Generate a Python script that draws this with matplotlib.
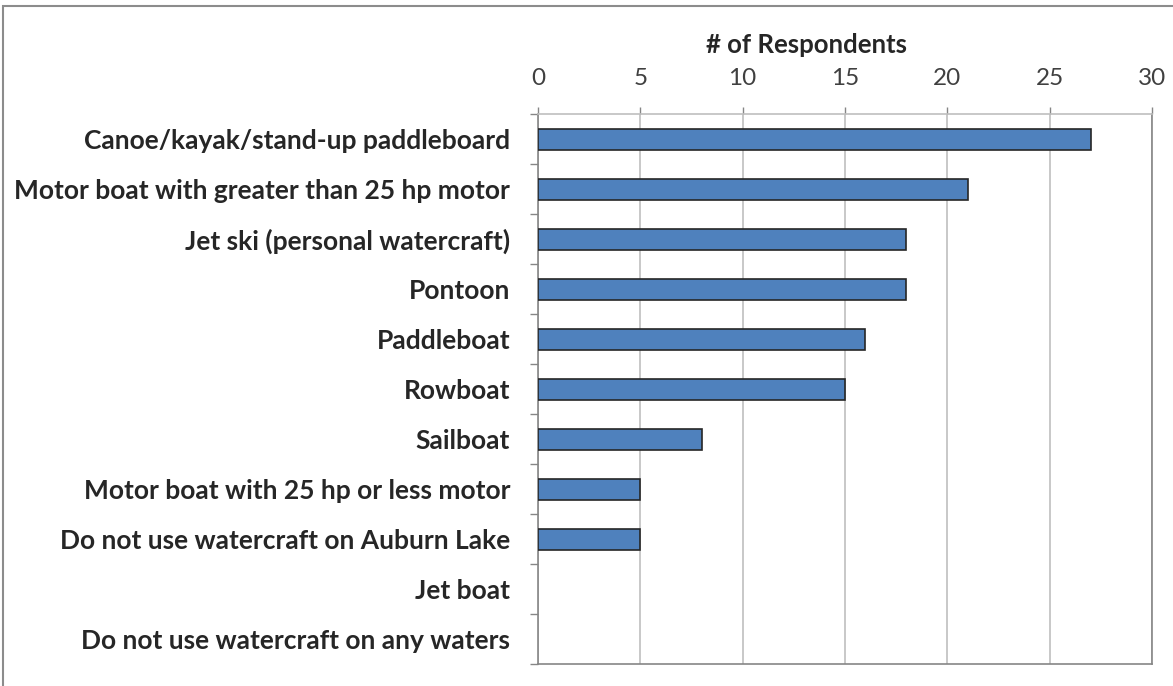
import numpy as np
import matplotlib.pyplot as plt
from matplotlib.patches import Rectangle

categories = ['Canoe/kayak/stand-up paddleboard',
              'Motor boat with greater than 25 hp motor',
              'Jet ski (personal watercraft)',
              'Pontoon',
              'Paddleboat',
              'Rowboat',
              'Sailboat',
              'Motor boat with 25 hp or less motor',
              'Do not use watercraft on Auburn Lake',
              'Jet boat',
              'Do not use watercraft on any waters']
respondents = [27, 21, 18, 18, 16, 15, 8, 5, 5, 0, 0]
x_ticks = [0, 5, 10, 15, 20, 25, 30]

plt.rcParams['font.family'] = ['Lato', 'DejaVu Sans']

fig = plt.figure(figsize=(11.73, 6.86), dpi=100)
ax = fig.add_axes([538 / 1173, 1 - 664 / 686, 614 / 1173, 550 / 686])

y = np.arange(len(categories))
# zero-length bars get no outline, so nothing shows for them
edge_widths = [1.2 if v > 0 else 0 for v in respondents]
ax.barh(y, respondents, height=0.42, color='#4F81BD', edgecolor='#262626',
        linewidth=edge_widths, zorder=3)

ax.set_ylim(len(categories) - 0.5, -0.5)
ax.set_xlim(0, 30)
ax.set_xticks(x_ticks)
ax.xaxis.tick_top()
ax.tick_params(axis='x', length=5, width=1, color='#868686', pad=13,
               labelsize=17.5, labelcolor='#404040')
ax.grid(axis='x', color='#BFBFBF', linewidth=1.2, zorder=0)

# axis title sits a bit left of the plot centre, as in the original
fig.text(806 / 1173, 1 - 45 / 686, '# of Respondents', fontsize=18.5,
         fontweight='bold', color='#262626', ha='center', va='center')

ax.set_yticks(y)
ax.set_yticklabels(categories, fontsize=19, fontweight='bold', color='#262626')
ax.set_yticks(np.arange(len(categories) + 1) - 0.5, minor=True)
ax.tick_params(axis='y', which='major', length=0, pad=20)
ax.tick_params(axis='y', which='minor', length=6, width=1, color='#868686')

for side in ['left', 'bottom', 'right']:
    ax.spines[side].set_color('#868686')
    ax.spines[side].set_linewidth(1.2)
ax.spines['top'].set_color('#BFBFBF')
ax.spines['top'].set_linewidth(1.2)

# outer chart frame, only its left and top edges fall inside the image
fig.patches.append(Rectangle((3 / 1173, -0.1), 1.2, 1.1 - 6 / 686,
                             transform=fig.transFigure, fill=False,
                             edgecolor='#8C8C8C', linewidth=1.5))

fig.savefig('out.png', dpi=100)
